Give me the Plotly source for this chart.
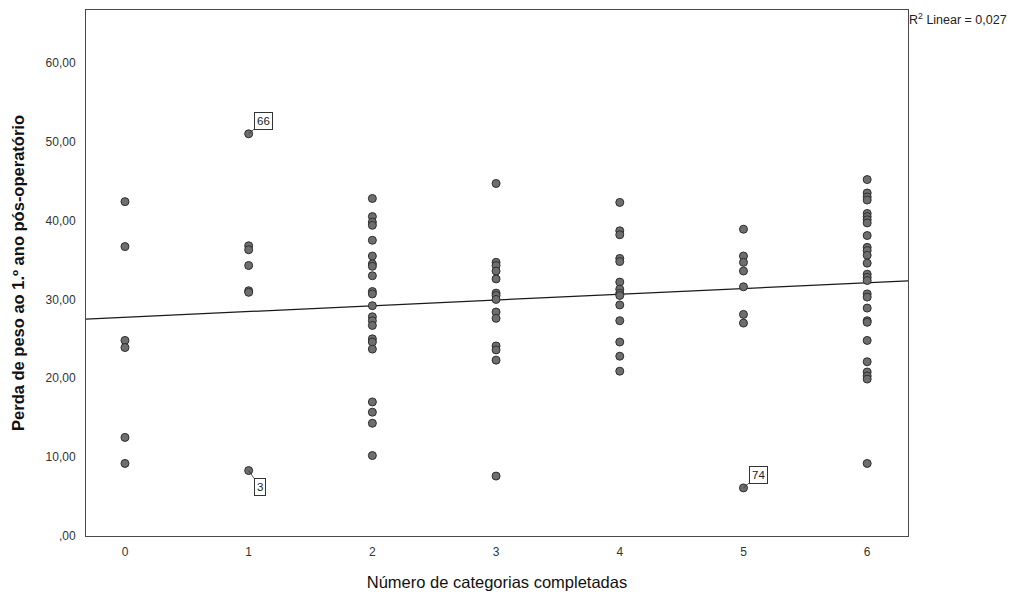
import numpy as np
import plotly.graph_objects as go

# Perda de peso ao 1.º ano por número de categorias completadas
cat0 = [42.4, 36.7, 24.8, 23.9, 12.5, 9.2]
cat1 = [51.0, 36.8, 36.3, 34.3, 31.1, 30.9, 8.3]
cat2 = [42.8, 40.5, 39.8, 39.4, 37.5, 35.5, 34.5, 34.2, 33.0, 31.0, 30.7,
        29.2, 27.8, 27.3, 26.7, 25.0, 24.6, 23.7, 17.0, 15.7, 14.3, 10.2]
cat3 = [44.7, 34.7, 34.3, 33.6, 32.6, 30.8, 30.5, 30.0, 28.4, 27.6, 24.1,
        23.6, 22.3, 7.6]
cat4 = [42.3, 38.7, 38.2, 35.2, 34.8, 32.2, 31.3, 30.8, 30.5, 29.3, 27.3,
        24.6, 22.8, 20.9]
cat5 = [38.9, 35.5, 34.7, 33.6, 31.6, 28.1, 27.0, 6.1]
cat6 = [45.2, 43.5, 43.0, 42.6, 40.9, 40.5, 40.1, 39.7, 38.1, 36.6, 36.2,
        35.6, 34.6, 33.2, 32.8, 32.4, 30.7, 30.3, 28.9, 27.3, 27.1, 24.8,
        22.1, 20.8, 20.3, 19.9, 9.2]
groups = [cat0, cat1, cat2, cat3, cat4, cat5, cat6]

# Casos identificados: (categoria, valor, identificador)
labelled = [(1, 51.0, "66"), (1, 8.3, "3"), (5, 6.1, "74")]
r2_text = "R<sup>2</sup> Linear = 0,027"

y_ticks = [0, 10, 20, 30, 40, 50, 60]
y_ticktext = [",00", "10,00", "20,00", "30,00", "40,00", "50,00", "60,00"]
x_ticks = [0, 1, 2, 3, 4, 5, 6]

xs = np.concatenate([[i] * len(g) for i, g in enumerate(groups)]).astype(float)
ys = np.concatenate([np.array(g, dtype=float) for g in groups])

# Reta de regressão linear (mínimos quadrados)
slope, intercept = np.polyfit(xs, ys, 1)
x_rng = [-0.315, 6.33]
y_rng = [0, 66.7]

fig = go.Figure()
fig.add_trace(go.Scatter(
    x=x_rng, y=[intercept + slope * x_rng[0], intercept + slope * x_rng[1]],
    mode="lines", line=dict(color="#1a1a1a", width=1.2),
    hoverinfo="skip", showlegend=False,
))
fig.add_trace(go.Scatter(
    x=xs, y=ys, mode="markers",
    marker=dict(size=8, color="#6e6e6e", line=dict(color="#2e2e2e", width=1)),
    showlegend=False,
))

offsets = {"66": (15, -13), "3": (11, 16), "74": (15, -13)}
for cx, cy, lab in labelled:
    ax, ay = offsets[lab]
    fig.add_annotation(
        x=cx, y=cy, text=lab, showarrow=True, arrowhead=0, arrowwidth=0.8,
        arrowcolor="#333333", ax=ax, ay=ay,
        bordercolor="#333333", borderwidth=1, borderpad=2, bgcolor="white",
        font=dict(family="Liberation Sans, Arial", size=11.5, color="#222222"),
    )

fig.add_annotation(
    xref="paper", yref="paper", x=1.0, y=0.983, xanchor="left", yanchor="middle",
    text=r2_text, showarrow=False, xshift=-1,
    font=dict(family="Liberation Sans, Arial", size=12.5, color="#222222"),
)

axis_font = dict(family="Liberation Sans, Arial", size=12, color="#333333")
fig.update_xaxes(
    range=x_rng, tickvals=x_ticks, ticktext=[str(t) for t in x_ticks],
    showgrid=False, zeroline=False, showline=True, linecolor="#4a4a4a",
    linewidth=1, mirror=True, ticks="", tickfont=axis_font, ticklabelstandoff=5,
    title=dict(text="Número de categorias completadas", standoff=18,
               font=dict(family="Liberation Sans, Arial", size=16.5, color="#111111")),
)
fig.update_yaxes(
    range=y_rng, tickvals=y_ticks, ticktext=y_ticktext,
    showgrid=False, zeroline=False, showline=True, linecolor="#4a4a4a",
    linewidth=1, mirror=True, ticks="", tickfont=axis_font, ticklabelstandoff=7,
    title=dict(text="<b>Perda de peso ao 1.º ano pós-operatório</b>", standoff=16,
               font=dict(family="Liberation Sans, Arial", size=16.5, color="#111111")),
)
fig.update_layout(
    width=1016, height=598,
    margin=dict(l=86, r=108, t=9, b=61),
    plot_bgcolor="white", paper_bgcolor="white",
)

fig.write_html("out.html")
